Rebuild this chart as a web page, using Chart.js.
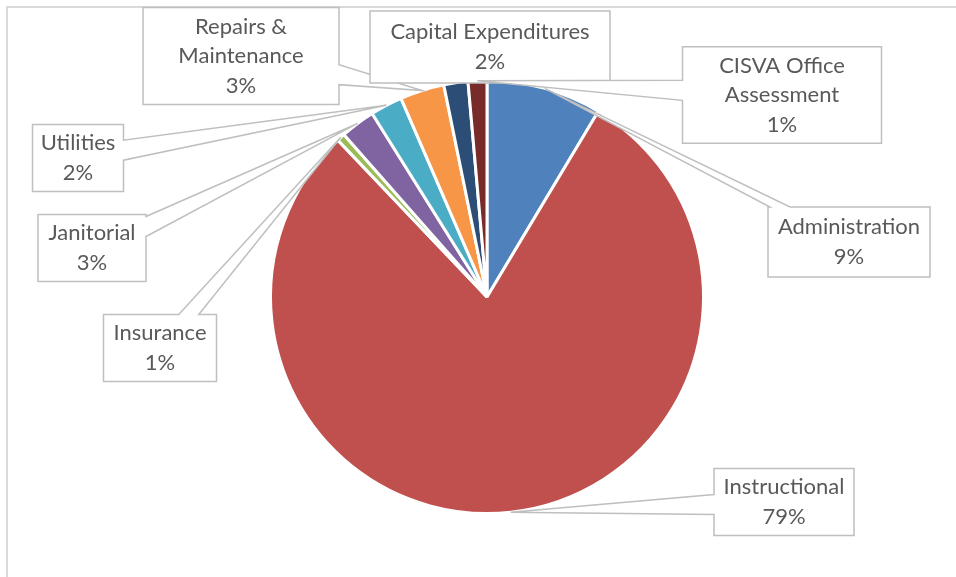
<!DOCTYPE html>
<html>
<head>
<meta charset="utf-8">
<script src="https://cdn.jsdelivr.net/npm/chart.js@4/dist/chart.umd.min.js"></script>
<style>
  html, body { margin: 0; padding: 0; background: #fff; }
</style>
</head>
<body>
<canvas id="graf-gastos" width="956" height="577"></canvas>
<script>
// categorias y porcentajes
const categories = ['Administration', 'Instructional', 'Insurance', 'Janitorial', 'Utilities',
    ['Repairs &', 'Maintenance'], 'Capital Expenditures', ['CISVA Office', 'Assessment']];
const shares = [8.6, 79.3, 0.6, 2.6, 2.4, 3.3, 1.8, 1.4];
const colors = ['#4F81BD', '#C0504D', '#9BBB59', '#8064A2', '#4BACC6', '#F79646', '#2C4D75', '#772C2A'];

// caja de cada etiqueta: centro y tamano (layout)
const labelPos = [[849, 242], [784, 502], [160, 348], [92, 248], [78, 158], [241, 56], [490, 47], [782, 95]];
const labelSize = [[162, 70], [140, 67], [113, 67], [108, 67], [91, 66], [196, 97], [240, 72], [199, 95]];

const callouts = {
    id: 'callouts',
    beforeDraw(chart) {
        const c = chart.ctx;
        c.save();
        c.strokeStyle = '#d9d9d9';
        c.lineWidth = 2;
        c.strokeRect(7, 7, chart.width + 20, chart.height + 20);
        c.restore();
    },
    afterDatasetsDraw(chart) {
        const c = chart.ctx;
        const meta = chart.getDatasetMeta(0);
        const total = shares.reduce((a, b) => a + b, 0);
        const padX = 7, lineH = 29.5, half = 10;
        c.save();
        c.font = '22px Lato';
        meta.data.forEach((arc, i) => {
            const mid = (arc.startAngle + arc.endAngle) / 2;
            const ax = arc.x + Math.cos(mid) * arc.outerRadius;
            const ay = arc.y + Math.sin(mid) * arc.outerRadius;
            const lines = Array.isArray(categories[i]) ? categories[i].slice() : [categories[i]];
            lines.push(Math.round(shares[i] / total * 100) + '%');
            const w = Math.max(labelSize[i][0], Math.max(...lines.map(t => c.measureText(t).width)) + 2 * padX);
            const h = Math.max(labelSize[i][1], lines.length * lineH + 8);
            const [cx, cy] = labelPos[i];
            const L = cx - w / 2, R = cx + w / 2, T = cy - h / 2, B = cy + h / 2;

            const dx = ax - cx, dy = ay - cy;
            const tx = dx !== 0 ? (w / 2) / Math.abs(dx) : Infinity;
            const ty = dy !== 0 ? (h / 2) / Math.abs(dy) : Infinity;
            let side = null, m = 0;
            const clamp = (v, a, b) => Math.max(a, Math.min(b, v));
            if (Math.min(tx, ty) < 1) {
                if (tx < ty) {
                    side = dx > 0 ? 'right' : 'left';
                    m = clamp(cy + dy * tx, T + half + 2, B - half - 2);
                } else {
                    side = dy > 0 ? 'bottom' : 'top';
                    m = clamp(cx + dx * ty, L + half + 2, R - half - 2);
                }
            }
            const pts = [[L, T]];
            if (side === 'top') pts.push([m - half, T], [ax, ay], [m + half, T]);
            pts.push([R, T]);
            if (side === 'right') pts.push([R, m - half], [ax, ay], [R, m + half]);
            pts.push([R, B]);
            if (side === 'bottom') pts.push([m + half, B], [ax, ay], [m - half, B]);
            pts.push([L, B]);
            if (side === 'left') pts.push([L, m + half], [ax, ay], [L, m - half]);

            c.beginPath();
            pts.forEach((p, k) => k ? c.lineTo(p[0], p[1]) : c.moveTo(p[0], p[1]));
            c.closePath();
            c.fillStyle = '#ffffff';
            c.fill();
            c.strokeStyle = '#bfbfbf';
            c.lineWidth = 1.5;
            c.stroke();

            c.fillStyle = '#595959';
            c.textAlign = 'center';
            c.textBaseline = 'middle';
            const top = cy - lines.length * lineH / 2;
            lines.forEach((t, k) => c.fillText(t, cx, top + lineH * (k + 0.5)));
        });
        c.restore();
    }
};

const ctx = document.getElementById('graf-gastos').getContext('2d');

const grafico = new Chart(ctx, {
    type: 'pie',
    data: {
        labels: categories,
        datasets: [{
            data: shares,
            backgroundColor: colors,
            borderColor: '#ffffff',
            borderWidth: 3
        }]
    },
    options: {
        responsive: false,
        animation: false,
        layout: {
            padding: { left: 269, right: 251, top: 79, bottom: 62 }
        },
        plugins: {
            legend: { display: false },
            tooltip: { enabled: false }
        }
    },
    plugins: [callouts]
});
</script>
</body>
</html>
